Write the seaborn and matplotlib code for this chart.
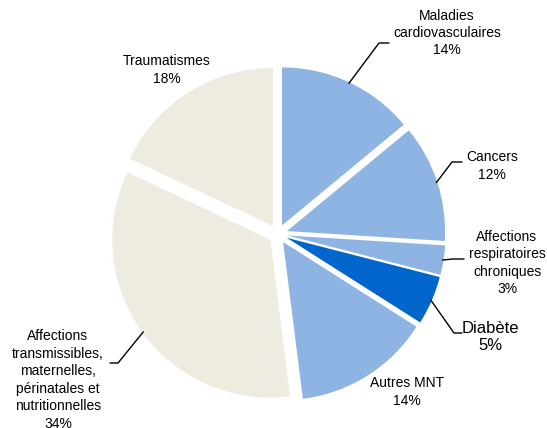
import numpy as np
import matplotlib
matplotlib.use('Agg')
import matplotlib.pyplot as plt
import seaborn as sns

sns.set_theme(style='white')
plt.rcParams['font.family'] = ['Liberation Sans', 'DejaVu Sans']

# données
categories = ['Maladies\ncardiovasculaires', 'Cancers', 'Affections\nrespiratoires\nchroniques',
              'Diabète', 'Autres MNT',
              'Affections\ntransmissibles,\nmaternelles,\npérinatales et\nnutritionnelles',
              'Traumatismes']
values = [14, 12, 3, 5, 14, 34, 18]
colors = ['#8EB4E3', '#8EB4E3', '#8EB4E3', '#0066CC', '#8EB4E3', '#EEECE1', '#EEECE1']

# position des étiquettes (pixels, origine en haut à gauche)
label_pos = [(447, 33), (492, 166), (507, 263), (490, 337), (407, 392), (58, 380), (167, 70)]
label_size = [10, 10, 10, 12, 10, 10, 10]
# coude des traits de rappel (None = pas de trait)
leader = [((379, 43), (389, 43)), ((452, 162), (462, 162)), ((453, 259), (464, 259)),
          ((454, 333), (462, 333)), None, ((118, 363), (110, 363)), None]

W, H = 547, 428
cx, cy, R, expl = 278, H - 234, 158, 9.5

fig = plt.figure(figsize=(W / 100, H / 100), dpi=100)
ax = fig.add_axes([0, 0, 1, 1])
wedges, _ = ax.pie(values, colors=colors, startangle=90, counterclock=False,
                   radius=R, center=(cx, cy), explode=[expl] * len(values),
                   wedgeprops={'linewidth': 0})
ax.set_xlim(0, W)
ax.set_ylim(0, H)
ax.set_aspect('equal')
ax.axis('off')

for i, w in enumerate(wedges):
    lab = categories[i] + '\n' + str(values[i]) + '%'
    tx, ty = label_pos[i]
    ls = 1.2 if categories[i] == 'Diabète' else 1.31
    ax.text(tx, H - ty, lab, ha='center', va='center', fontsize=label_size[i],
            color='black', linespacing=ls)
    if leader[i] is not None:
        mid = np.deg2rad((w.theta1 + w.theta2) / 2)
        ax0 = cx + (R + expl - 1) * np.cos(mid)
        ay0 = cy + (R + expl - 1) * np.sin(mid)
        (ex, ey), (fx, fy) = leader[i]
        ax.plot([ax0, ex, fx], [ay0, H - ey, H - fy], color='black', lw=1)

fig.savefig('out.png', dpi=100)
